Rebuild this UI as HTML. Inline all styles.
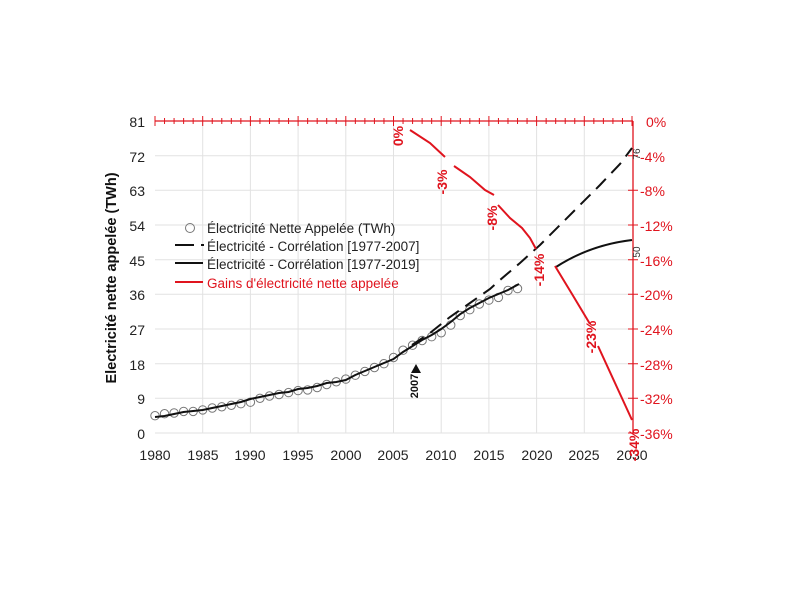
<!DOCTYPE html>
<html><head><meta charset="utf-8"><style>
body{margin:0;background:#fff}
svg{display:block;font-family:"Liberation Sans",Arial,sans-serif}
</style></head><body>
<svg width="800" height="600" viewBox="0 0 800 600">
<g stroke="#e2e2e2" stroke-width="1">
<line x1="202.7" y1="121" x2="202.7" y2="433"/><line x1="250.4" y1="121" x2="250.4" y2="433"/>
<line x1="298.1" y1="121" x2="298.1" y2="433"/><line x1="345.8" y1="121" x2="345.8" y2="433"/>
<line x1="393.5" y1="121" x2="393.5" y2="433"/><line x1="441.2" y1="121" x2="441.2" y2="433"/>
<line x1="488.9" y1="121" x2="488.9" y2="433"/><line x1="536.6" y1="121" x2="536.6" y2="433"/>
<line x1="584.3" y1="121" x2="584.3" y2="433"/>
<line x1="155" y1="155.7" x2="632" y2="155.7"/><line x1="155" y1="190.3" x2="632" y2="190.3"/>
<line x1="155" y1="225" x2="632" y2="225"/><line x1="155" y1="259.7" x2="632" y2="259.7"/>
<line x1="155" y1="294.3" x2="632" y2="294.3"/><line x1="155" y1="329" x2="632" y2="329"/>
<line x1="155" y1="363.7" x2="632" y2="363.7"/><line x1="155" y1="398.3" x2="632" y2="398.3"/>
<line x1="155" y1="433" x2="632" y2="433"/>
</g>
<g stroke="#e0141e" stroke-width="1.3" fill="none">
<line x1="155" y1="121" x2="633" y2="121"/>
<line x1="633" y1="121" x2="633" y2="433"/>
<path stroke-width="1" d="M155 116v10M164.54 118v6M174.08 118v6M183.62 118v6M193.16 118v6M202.7 116v10M212.24 118v6M221.78 118v6M231.32 118v6M240.86 118v6M250.4 116v10M259.94 118v6M269.48 118v6M279.02 118v6M288.56 118v6M298.1 116v10M307.64 118v6M317.18 118v6M326.72 118v6M336.26 118v6M345.8 116v10M355.34 118v6M364.88 118v6M374.42 118v6M383.96 118v6M393.5 116v10M403.04 118v6M412.58 118v6M422.12 118v6M431.66 118v6M441.2 116v10M450.74 118v6M460.28 118v6M469.82 118v6M479.36 118v6M488.9 116v10M498.44 118v6M507.98 118v6M517.52 118v6M527.06 118v6M536.6 116v10M546.14 118v6M555.68 118v6M565.22 118v6M574.76 118v6M584.3 116v10M593.84 118v6M603.38 118v6M612.92 118v6M622.46 118v6M632 116v10
M628 155.7h10M628 190.3h10M628 225h10M628 259.7h10M628 294.3h10M628 329h10M628 363.7h10M628 398.3h10M628 433h10"/>
</g>
<g font-size="14" fill="#222" text-anchor="end">
<text x="145" y="127">81</text><text x="145" y="162">72</text><text x="145" y="196">63</text>
<text x="145" y="231">54</text><text x="145" y="266">45</text><text x="145" y="300">36</text>
<text x="145" y="335">27</text><text x="145" y="370">18</text><text x="145" y="404">9</text>
<text x="145" y="439">0</text>
</g>
<g font-size="14" fill="#e0141e">
<text x="646" y="127">0%</text><text x="640" y="162">-4%</text><text x="640" y="196">-8%</text>
<text x="640" y="231">-12%</text><text x="640" y="266">-16%</text><text x="640" y="300">-20%</text>
<text x="640" y="335">-24%</text><text x="640" y="370">-28%</text><text x="640" y="404">-32%</text>
<text x="640" y="439">-36%</text>
</g>
<g font-size="14" fill="#222" text-anchor="middle">
<text x="155" y="460">1980</text><text x="203" y="460">1985</text><text x="250" y="460">1990</text>
<text x="298" y="460">1995</text><text x="346" y="460">2000</text><text x="393" y="460">2005</text>
<text x="441" y="460">2010</text><text x="489" y="460">2015</text><text x="537" y="460">2020</text>
<text x="584" y="460">2025</text><text x="632" y="460">2030</text>
</g>
<text transform="translate(116,278) rotate(-90)" font-size="14.5" font-weight="bold" text-anchor="middle" fill="#111">Electricité nette appelée (TWh)</text>
<g fill="none" stroke="#777" stroke-width="1">
<circle cx="155" cy="415.7" r="4.2"/><circle cx="164.54" cy="413.7" r="4.2"/><circle cx="174.08" cy="413" r="4.2"/>
<circle cx="183.62" cy="411.4" r="4.2"/><circle cx="193.16" cy="411.4" r="4.2"/><circle cx="202.7" cy="409.9" r="4.2"/>
<circle cx="212.24" cy="408" r="4.2"/><circle cx="221.78" cy="406.8" r="4.2"/><circle cx="231.32" cy="405.3" r="4.2"/>
<circle cx="240.86" cy="403.7" r="4.2"/><circle cx="250.4" cy="402.2" r="4.2"/><circle cx="259.94" cy="398.3" r="4.2"/>
<circle cx="269.48" cy="396" r="4.2"/><circle cx="279.02" cy="394.5" r="4.2"/><circle cx="288.56" cy="392.6" r="4.2"/>
<circle cx="298.1" cy="390.6" r="4.2"/><circle cx="307.64" cy="389.9" r="4.2"/><circle cx="317.18" cy="387.5" r="4.2"/>
<circle cx="326.72" cy="384.5" r="4.2"/><circle cx="336.26" cy="381.8" r="4.2"/><circle cx="345.8" cy="379.1" r="4.2"/>
<circle cx="355.34" cy="375.2" r="4.2"/><circle cx="364.88" cy="371.4" r="4.2"/><circle cx="374.42" cy="367.5" r="4.2"/>
<circle cx="383.96" cy="363.7" r="4.2"/><circle cx="393.5" cy="357.5" r="4.2"/><circle cx="403.04" cy="350.2" r="4.2"/>
<circle cx="412.58" cy="345.2" r="4.2"/><circle cx="422.12" cy="340.5" r="4.2"/><circle cx="431.66" cy="336.7" r="4.2"/>
<circle cx="441.2" cy="332.8" r="4.2"/><circle cx="450.74" cy="325.1" r="4.2"/><circle cx="460.28" cy="315.5" r="4.2"/>
<circle cx="469.82" cy="309.7" r="4.2"/><circle cx="479.36" cy="304" r="4.2"/><circle cx="488.9" cy="300.1" r="4.2"/>
<circle cx="498.44" cy="297.4" r="4.2"/><circle cx="507.98" cy="290.5" r="4.2"/><circle cx="517.52" cy="288.6" r="4.2"/>
</g>
<polyline fill="none" stroke="#111" stroke-width="2" points="155,417 164.5,416 174,414 183.6,412 193.2,411 202.7,410 212.2,408 221.8,406 231.3,404 240.9,402 250.4,399 259.9,397 269.5,395 279,393 288.6,392 298.1,389 307.6,388 317.2,386 326.7,383 336.3,382 345.8,380 355.3,375 364.9,371 374.4,367 384,363 393.5,359 403,352 412.6,346 422.1,340 431.7,335 441.2,329 450.7,322 460.3,314 469.8,308 479.4,303 488.9,298 498.4,294 508,290 519,284"/>
<polyline fill="none" stroke="#111" stroke-width="2" stroke-dasharray="14,8" points="412,345 430,333 450,317 470,303 490,289 500,280 520,263 540,245 560,225 580,205 600,185 620,164 632,148"/>
<path d="M556,267 Q590,245 632,240" fill="none" stroke="#111" stroke-width="2"/>
<g fill="none" stroke="#e0141e" stroke-width="2">
<polyline points="410,130 430,143 445,157"/>
<polyline points="454,166 470,177 485,190 494,195"/>
<polyline points="498,205 510,218 522,228 530,238 536,249"/>
<polyline points="555,266 572,294 590,324"/>
<polyline points="598,346 615,383 632,420"/>
</g>
<g fill="#e0141e" font-size="14" font-weight="bold" text-anchor="middle">
<text transform="translate(403,136) rotate(-90)">0%</text>
<text transform="translate(447,182) rotate(-90)">-3%</text>
<text transform="translate(497,218) rotate(-90)">-8%</text>
<text transform="translate(544,270) rotate(-90)">-14%</text>
<text transform="translate(596,337) rotate(-90)">-23%</text>
<text transform="translate(639,445) rotate(-90)">-34%</text>
</g>
<g font-size="10" fill="#333" text-anchor="middle">
<text transform="translate(640,154) rotate(-90)">76</text>
<text transform="translate(640,252) rotate(-90)">50</text>
</g>
<text transform="translate(418,386) rotate(-90)" font-size="11" font-weight="bold" text-anchor="middle" fill="#111">2007</text>
<polygon points="411,373 421,373 416,364" fill="#111"/>
<circle cx="190" cy="228" r="4.5" fill="none" stroke="#777"/>
<line x1="175" y1="245" x2="194" y2="245" stroke="#111" stroke-width="2"/><line x1="201" y1="245" x2="204" y2="245" stroke="#111" stroke-width="2"/>
<line x1="175" y1="263" x2="203" y2="263" stroke="#111" stroke-width="2"/>
<line x1="175" y1="282" x2="203" y2="282" stroke="#e0141e" stroke-width="2"/>
<g font-size="13.5" fill="#222">
<text x="207" y="233">Électricité Nette Appelée (TWh)</text>
<text x="207" y="251">Électricité - Corrélation [1977-2007]</text>
<text x="207" y="269">Électricité - Corrélation [1977-2019]</text>
<text x="207" y="288" fill="#e0141e">Gains d'électricité nette appelée</text>
</g>
</svg>
</body></html>
